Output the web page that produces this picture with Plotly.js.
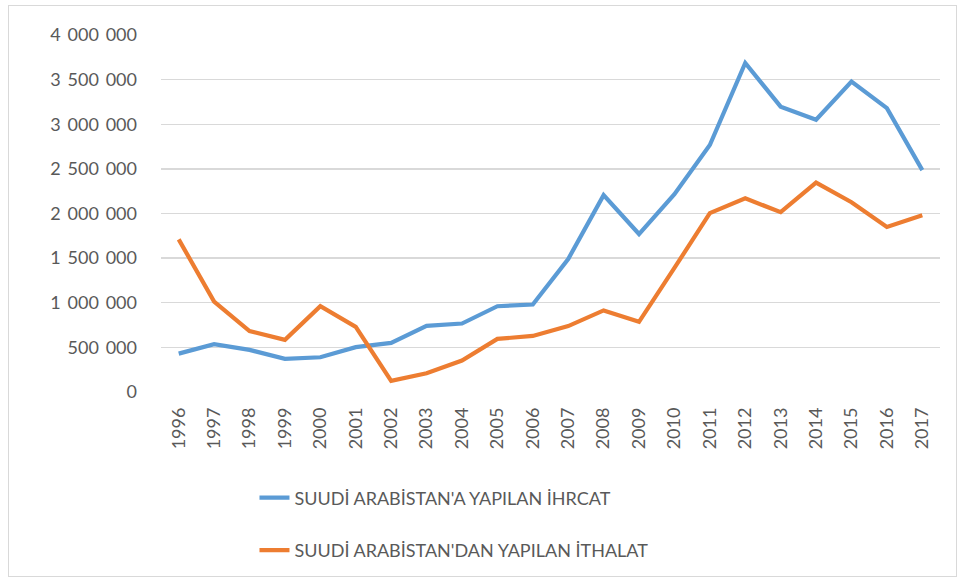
<!DOCTYPE html>
<html>
<head>
<meta charset="utf-8">
<script src="https://cdn.plot.ly/plotly-3.0.1.min.js"></script>
<style>
html,body{margin:0;padding:0;background:#fff;}
#wrap{position:relative;width:962px;height:581px;}
#chart{width:962px;height:581px;}
#frame{position:absolute;left:8px;top:5px;width:949px;height:572px;border:1px solid #d9d9d9;pointer-events:none;box-sizing:border-box;}
</style>
</head>
<body>
<div id="wrap"><div id="chart"></div><div id="frame"></div></div>
<script>
const years = ["1996","1997","1998","1999","2000","2001","2002","2003","2004","2005","2006","2007","2008","2009","2010","2011","2012","2013","2014","2015","2016","2017"];
const exportsSA = [430000,536000,472000,371000,389000,503000,550000,741000,767000,961000,980000,1490000,2206000,1770000,2217000,2768000,3686000,3197000,3050000,3477000,3180000,2486000];
const importsSA = [1710000,1013000,683000,584000,962000,730000,125000,209000,352000,595000,628000,738000,914000,786000,1390000,2004000,2170000,2015000,2346000,2126000,1850000,1979000];
const seriesNames = ["SUUDİ ARABİSTAN'A YAPILAN İHRCAT","SUUDİ ARABİSTAN'DAN YAPILAN İTHALAT"];
const yTicks = [0,500000,1000000,1500000,2000000,2500000,3000000,3500000,4000000];
const yTickText = yTicks.map(v => String(v).replace(/\B(?=(\d{3})+(?!\d))/g, " \u2009"));

const font = "Lato, 'Open Sans', sans-serif";
const traces = [
  {x: years, y: exportsSA, name: seriesNames[0], type: "scatter", mode: "lines", legendgroup: "a",
   line: {color: "#5B9BD5", width: 4.2}},
  {x: years, y: importsSA, name: seriesNames[1], type: "scatter", mode: "lines", legendgroup: "b",
   line: {color: "#ED7D31", width: 4.2}}
];
const layout = {
  width: 962, height: 581,
  margin: {l: 161, r: 22, t: 35, b: 183},
  paper_bgcolor: "#fff", plot_bgcolor: "#fff",
  font: {family: font, color: "#595959", size: 18},
  xaxis: {type: "category", range: [-0.5, years.length - 0.5], showgrid: false, zeroline: false, showline: false, ticks: "",
          tickangle: -90, tickfont: {size: 18, color: "#595959"}, ticklabelstandoff: 11},
  yaxis: {range: [0, 4000000], tickvals: yTicks, ticktext: yTickText, showgrid: true, gridcolor: "#d9d9d9",
          gridwidth: 1.3, zeroline: false, showline: false, ticks: "", ticklabelstandoff: 23,
          tickfont: {size: 18, color: "#595959"}},
  showlegend: true,
  legend: {orientation: "v", x: 0.12, xanchor: "left", y: -0.245, yanchor: "top",
           font: {size: 18, color: "#595959"}, tracegroupgap: 26, bgcolor: "rgba(0,0,0,0)"}
};
Plotly.newPlot("chart", traces, layout, {displayModeBar: false, staticPlot: true});
</script>
</body>
</html>
